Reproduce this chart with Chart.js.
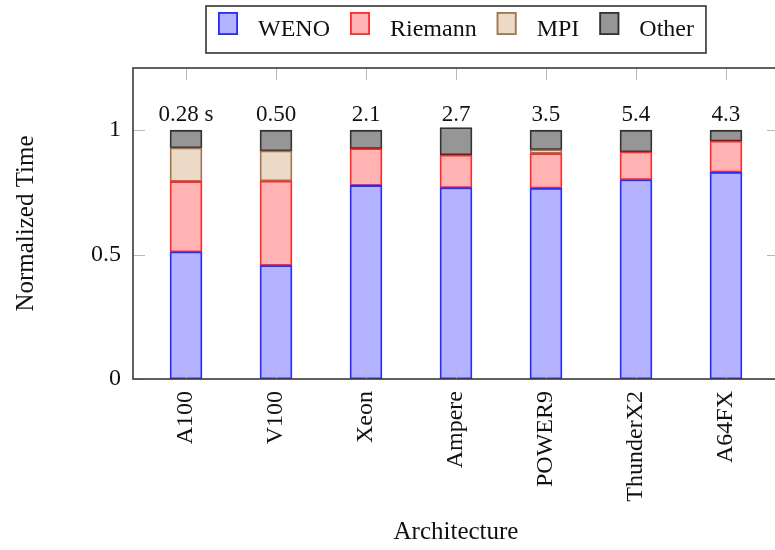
<!DOCTYPE html>
<html>
<head>
<meta charset="utf-8">
<title>Normalized time per architecture</title>
<script src="https://cdn.jsdelivr.net/npm/chart.js@4.4.1/dist/chart.umd.min.js"></script>
<style>
  html, body { margin: 0; padding: 0; background: #fff; overflow: hidden; }
  #wrap { width: 800px; height: 550px; }
</style>
</head>
<body>
<div id="wrap"><canvas id="chart" width="800" height="550"></canvas></div>
<script>
// Share of runtime per kernel, normalized to the total on each machine
const archs = ['A100', 'V100', 'Xeon', 'Ampere', 'POWER9', 'ThunderX2', 'A64FX'];
const totals = ['0.28 s', '0.50', '2.1', '2.7', '3.5', '5.4', '4.3'];
const weno = [0.511, 0.456, 0.778, 0.769, 0.767, 0.801, 0.831];
const riemann = [0.283, 0.340, 0.148, 0.131, 0.139, 0.112, 0.125];
const mpi = [0.135, 0.121, 0, 0, 0.016, 0, 0];
const other = [0.071, 0.083, 0.074, 0.111, 0.078, 0.087, 0.044];
const yTicks = [0, 0.5, 1];

const serif = '"Liberation Serif", "DejaVu Serif", serif';
Chart.defaults.font.family = serif;
Chart.defaults.color = '#111';

function series(label, values, fill, edge) {
    return {
        label: label,
        data: values.map((v, i) => ({ x: i, y: v })),
        backgroundColor: fill,
        borderColor: edge,
        borderWidth: 1.8,
        borderSkipped: false,
        barThickness: 32
    };
}

// axis box with inward ticks on all four sides, drawn over the bars
const frame = {
    id: 'frame',
    afterDatasetsDraw(chart) {
        const { ctx, chartArea: a, scales: { x, y } } = chart;
        const len = 12;
        ctx.save();
        ctx.strokeStyle = '#b8b8b8';
        ctx.lineWidth = 1;
        ctx.beginPath();
        x.ticks.forEach(t => {
            const px = Math.round(x.getPixelForValue(t.value)) + 0.5;
            ctx.moveTo(px, a.bottom); ctx.lineTo(px, a.bottom - len);
            ctx.moveTo(px, a.top); ctx.lineTo(px, a.top + len);
        });
        y.ticks.forEach(t => {
            const py = Math.round(y.getPixelForValue(t.value)) + 0.5;
            ctx.moveTo(a.left, py); ctx.lineTo(a.left + len, py);
            ctx.moveTo(a.right, py); ctx.lineTo(a.right - len, py);
        });
        ctx.stroke();
        ctx.strokeStyle = '#3a3a3a';
        ctx.lineWidth = 1.6;
        ctx.strokeRect(a.left, a.top, a.right - a.left, a.bottom - a.top);
        ctx.restore();
    }
};

// absolute runtime written above each column
const totalLabels = {
    id: 'totalLabels',
    afterDatasetsDraw(chart) {
        const { ctx, scales: { x, y } } = chart;
        ctx.save();
        ctx.font = '23px ' + serif;
        ctx.fillStyle = '#111';
        ctx.textAlign = 'center';
        ctx.textBaseline = 'alphabetic';
        totals.forEach((txt, i) => {
            ctx.fillText(txt, x.getPixelForValue(i), y.getPixelForValue(1.035));
        });
        ctx.restore();
    }
};

// boxed legend in one row, centered over the plot
const legendBox = {
    id: 'legendBox',
    afterDraw(chart) {
        const { ctx, chartArea: a } = chart;
        const sets = chart.data.datasets;
        const sw = 20, sh = 23, gap = 20, pad = 12;
        ctx.save();
        ctx.font = '24px ' + serif;
        let total = pad * 2;
        sets.forEach((ds, i) => {
            total += sw + gap + ctx.measureText(ds.label).width;
            if (i < sets.length - 1) total += gap;
        });
        let left = Math.round((a.left + a.right) / 2 - total / 2);
        ctx.fillStyle = '#fff';
        ctx.fillRect(left, 6, total, 47);
        ctx.strokeStyle = '#333';
        ctx.lineWidth = 1.6;
        ctx.strokeRect(left, 6, total, 47);
        let cx = left + pad;
        sets.forEach(ds => {
            ctx.fillStyle = ds.backgroundColor;
            ctx.fillRect(cx, 12, sw, sh);
            ctx.strokeStyle = ds.borderColor;
            ctx.lineWidth = 1.8;
            ctx.strokeRect(cx + 0.9, 12.9, sw - 1.8, sh - 1.8);
            cx += sw + gap;
            ctx.fillStyle = '#111';
            ctx.textBaseline = 'alphabetic';
            ctx.fillText(ds.label, cx, 36);
            cx += ctx.measureText(ds.label).width + gap;
        });
        ctx.restore();
    }
};

new Chart(document.getElementById('chart'), {
    type: 'bar',
    data: {
        datasets: [
            series('WENO', weno, '#b3b3ff', '#2a2aff'),
            series('Riemann', riemann, '#ffb3b3', '#ff2a2a'),
            series('MPI', mpi, '#ecd9c6', '#9c7552'),
            series('Other', other, '#969696', '#333333')
        ]
    },
    options: {
        responsive: false,
        animation: false,
        layout: { padding: { top: 68, right: 21, bottom: 0, left: 0 } },
        plugins: {
            legend: { display: false },
            tooltip: { enabled: false }
        },
        scales: {
            x: {
                type: 'linear',
                stacked: true,
                offset: false,
                min: -0.589,
                max: 6.589,
                grid: { display: false, drawTicks: false },
                border: { display: false },
                afterBuildTicks: s => { s.ticks = archs.map((_, i) => ({ value: i })); },
                afterFit: s => { s.height = 171; },
                ticks: {
                    autoSkip: false,
                    minRotation: 90,
                    maxRotation: 90,
                    padding: 12,
                    font: { size: 24 },
                    callback: v => archs[v]
                },
                title: {
                    display: true,
                    text: 'Architecture',
                    font: { size: 25 },
                    padding: { top: 0, bottom: 3 }
                }
            },
            y: {
                stacked: true,
                min: 0,
                max: 1.25,
                grid: { display: false, drawTicks: false },
                border: { display: false },
                afterBuildTicks: s => { s.ticks = yTicks.map(v => ({ value: v })); },
                afterFit: s => { s.width = 133; },
                ticks: {
                    padding: 12,
                    font: { size: 24 },
                    callback: v => String(v)
                },
                title: {
                    display: true,
                    text: 'Normalized Time',
                    font: { size: 25 },
                    padding: { top: 11, bottom: 0 }
                }
            }
        }
    },
    plugins: [frame, totalLabels, legendBox]
});
</script>
</body>
</html>
